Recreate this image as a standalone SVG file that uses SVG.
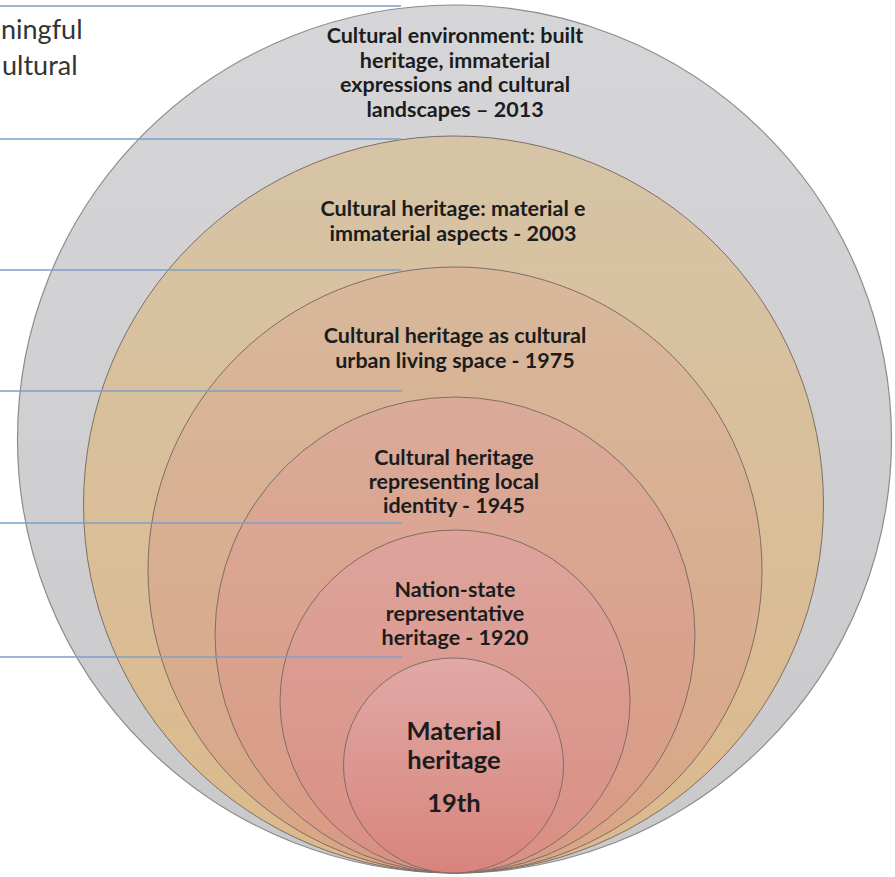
<svg xmlns="http://www.w3.org/2000/svg" width="895" height="877" viewBox="0 0 895 877">
<style>
.ring{stroke:#7d6e66;stroke-width:1}
.outer{stroke:#8c8c8c;stroke-width:1.2}
.lbl{font-family:Lato,"Open Sans","Liberation Sans",sans-serif;font-weight:bold;font-size:21.5px;fill:#1c1c1c;text-anchor:middle}
.big{font-size:25.5px}
.side{font-family:Lato,"Open Sans","Liberation Sans",sans-serif;font-size:27px;fill:#333333}
.conn{stroke:#7f9fc9;stroke-width:1.5;fill:none}
</style>
<defs>
<linearGradient id="g1" x1="0" y1="0" x2="0" y2="1"><stop offset="0" stop-color="#d6d6d8"/><stop offset="1" stop-color="#c9c9cb"/></linearGradient>
<linearGradient id="g2" x1="0" y1="0" x2="0" y2="1"><stop offset="0" stop-color="#d6c4a6"/><stop offset="1" stop-color="#dcb98c"/></linearGradient>
<linearGradient id="g3" x1="0" y1="0" x2="0" y2="1"><stop offset="0" stop-color="#d8b89c"/><stop offset="1" stop-color="#d9a585"/></linearGradient>
<linearGradient id="g4" x1="0" y1="0" x2="0" y2="1"><stop offset="0" stop-color="#dbaa98"/><stop offset="1" stop-color="#d99a84"/></linearGradient>
<linearGradient id="g5" x1="0" y1="0" x2="0" y2="1"><stop offset="0" stop-color="#dda49c"/><stop offset="1" stop-color="#d98f84"/></linearGradient>
<linearGradient id="g6" x1="0" y1="0" x2="0" y2="1"><stop offset="0" stop-color="#e1a9a6"/><stop offset="1" stop-color="#d8847c"/></linearGradient>
</defs>
<g id="side-text">
<text class="side" x="1" y="39">ningful</text>
<text class="side" x="2" y="75">ultural</text>
</g>
<g id="ring-2013">
<ellipse class="outer" cx="454.5" cy="439" rx="437" ry="434" fill="url(#g1)"/>
</g>
<g id="ring-2003">
<ellipse class="ring" cx="453.5" cy="504.5" rx="370" ry="368.5" fill="url(#g2)"/>
</g>
<g id="ring-1975">
<ellipse class="ring" cx="455" cy="570" rx="307" ry="303" fill="url(#g3)"/>
</g>
<g id="ring-1945">
<ellipse class="ring" cx="455" cy="635" rx="240" ry="238" fill="url(#g4)"/>
</g>
<g id="ring-1920">
<ellipse class="ring" cx="455" cy="701.5" rx="175" ry="171.5" fill="url(#g5)"/>
</g>
<g id="ring-19th">
<ellipse class="ring" cx="453.5" cy="765.5" rx="110" ry="107.5" fill="url(#g6)"/>
</g>
<g id="connectors">
<line class="conn" x1="0" y1="6" x2="401" y2="6"/>
<line class="conn" x1="0" y1="139" x2="401" y2="139"/>
<line class="conn" x1="0" y1="270" x2="401" y2="270"/>
<line class="conn" x1="0" y1="391" x2="402" y2="391"/>
<line class="conn" x1="0" y1="523" x2="402" y2="523"/>
<line class="conn" x1="0" y1="657" x2="402" y2="657"/>
</g>
<g id="labels">
<text class="lbl" x="455" y="43">Cultural environment: built</text>
<text class="lbl" x="455" y="67.5">heritage, immaterial</text>
<text class="lbl" x="455" y="92">expressions and cultural</text>
<text class="lbl" x="455" y="116.5">landscapes – 2013</text>
<text class="lbl" x="453" y="216">Cultural heritage: material e</text>
<text class="lbl" x="453" y="241">immaterial aspects - 2003</text>
<text class="lbl" x="455" y="343">Cultural heritage as cultural</text>
<text class="lbl" x="455" y="368">urban living space - 1975</text>
<text class="lbl" x="454" y="465">Cultural heritage</text>
<text class="lbl" x="454" y="489">representing local</text>
<text class="lbl" x="454" y="513">identity - 1945</text>
<text class="lbl" x="455" y="597">Nation-state</text>
<text class="lbl" x="455" y="621">representative</text>
<text class="lbl" x="455" y="645">heritage - 1920</text>
<text class="lbl big" x="454" y="740">Material</text>
<text class="lbl big" x="454" y="769">heritage</text>
<text class="lbl big" x="454" y="812">19th</text>
</g>
</svg>
